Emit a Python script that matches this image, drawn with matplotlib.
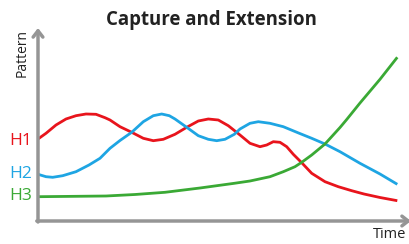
import matplotlib.pyplot as plt

# values (time, pattern level)
time_h1 = [0, 8, 18, 28, 38, 48, 58, 67, 72, 82, 93.7, 105.3, 115.3, 125.3, 137, 148.7, 160.3,
           170.3, 180.3, 190.3, 202, 212, 222, 228.7, 235.3, 242, 248.7, 255.3, 263.7, 273.7,
           287, 300.3, 313.7, 326, 342, 359.3]
h1 = [82, 87.7, 96, 102, 105.3, 107, 106.7, 103.3, 101, 94.3, 88.7, 82.7, 80.3, 81.7, 86.7,
      93.7, 100, 102, 101, 95.3, 86, 77.7, 74.3, 76, 79.3, 78.7, 74.3, 66.7, 58.3, 47.7,
      39.3, 34.3, 30.3, 27, 23.5, 20.3]

time_h2 = [0, 8, 14.7, 24.7, 38, 51, 62, 72, 82, 93.7, 105.3, 115.3, 123.7, 131.3, 137, 148.7,
           160.3, 170.3, 178.7, 187, 196.3, 202, 212, 220.3, 232, 245.3, 261.3, 273.7, 287,
           302, 322, 342, 359.3]
h2 = [46.7, 44.3, 43.7, 45.3, 49.3, 56, 62.7, 72.7, 80.5, 88.7, 99.3, 105.3, 107, 105.3, 102,
      93.7, 85.3, 81.7, 80.3, 81.7, 86.7, 92, 97.7, 99.3, 97.7, 94.3, 87.7, 82.7, 77,
      69.3, 57.7, 47, 36.7]

time_h3 = [0, 68, 97, 127, 162, 196.3, 212, 232, 245.3, 257, 263.7, 273.7, 287, 297, 302,
           308.7, 322, 342, 359.3]
h3 = [24.3, 25, 26.5, 28.7, 33, 37.7, 40, 44.3, 49.3, 54.3, 58.7, 66, 77, 88, 93.5,
      101.5, 118, 141.7, 163.7]

series = [("H1", time_h1, h1, "#e8141c", 141),
          ("H2", time_h2, h2, "#1ea5e3", 174),
          ("H3", time_h3, h3, "#3aa935", 196)]

W, H = 409, 244
fig = plt.figure(figsize=(W / 100, H / 100), dpi=100)
ax = fig.add_axes([38 / W, 23 / H, (W - 38) / W, (221 - 28) / H])
ax.set_xlim(0, W - 38)
ax.set_ylim(0, 193)
ax.axis("off")

for name, t, v, color, label_y in series:
    ax.plot(t, v, color=color, lw=2, solid_joinstyle="round", solid_capstyle="butt")
    fig.text(21 / W, 1 - label_y / H, name, color=color, fontsize=12.5,
             family="Open Sans", ha="center", va="center")

axis_color = "#959595"
arrow = dict(arrowstyle="->,head_length=0.45,head_width=0.35", color=axis_color,
             lw=2.5, shrinkA=0, shrinkB=0)
ax.annotate("", xy=(0, 193), xytext=(0, -1), arrowprops=arrow, annotation_clip=False)
ax.annotate("", xy=(W - 38 + 2, 0), xytext=(-1.2, 0), arrowprops=arrow, annotation_clip=False)

fig.text(211 / W, 1 - 20 / H, "Capture and Extension", fontsize=13.4, fontweight="bold",
         family="Open Sans", color="#222222", ha="center", va="center")
fig.text(22 / W, 1 - 53 / H, "Pattern", fontsize=10, rotation=90, family="Open Sans",
         color="#222222", ha="center", va="center")
fig.text(390 / W, 1 - 235 / H, "Time", fontsize=10.5, family="Open Sans",
         color="#222222", ha="center", va="center")

fig.savefig("out.png", dpi=100)
